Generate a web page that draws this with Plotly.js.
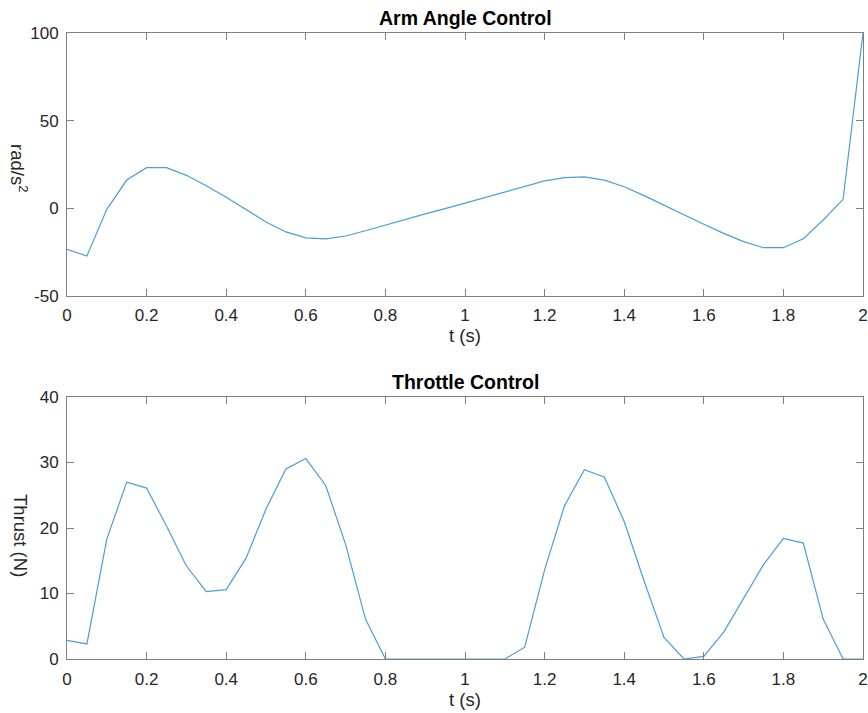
<!DOCTYPE html>
<html>
<head>
<meta charset="utf-8">
<script src="https://cdn.plot.ly/plotly-3.0.1.min.js"></script>
<style>html,body{margin:0;padding:0;background:#fff;}#chart{width:868px;height:713px;}</style>
</head>
<body>
<div id="chart"></div>
<script>
const t = [0,0.05,0.1,0.15,0.2,0.25,0.3,0.35,0.4,0.45,0.5,0.55,0.6,0.65,0.7,0.75,0.8,0.85,0.9,0.95,1.0,
           1.05,1.1,1.15,1.2,1.25,1.3,1.35,1.4,1.45,1.5,1.55,1.6,1.65,1.7,1.75,1.8,1.85,1.9,1.95,2.0];
const armAngle = [-23.4,-27.2,-0.6,16.1,23.2,23.2,18.8,12.9,6.3,-0.6,-7.8,-13.5,-16.9,-17.5,-15.8,-12.8,-9.5,-6.3,-3.2,-0.2,3.0,
                  6.1,9.2,12.4,15.6,17.5,17.9,16.1,12.3,7.2,1.7,-3.8,-9.1,-14.3,-19.0,-22.5,-22.5,-17.4,-6.7,5.1,100];
const thrust = [2.85,2.3,18.3,27.0,26.1,20.3,14.2,10.3,10.6,15.4,22.9,29.0,30.6,26.5,17.5,6.1,0,0,0,0,0,
                0,0,1.8,13.6,23.4,28.9,27.8,21.0,11.9,3.3,0,0.4,4.1,9.2,14.4,18.4,17.7,6.1,0,0];
const titles = ['Arm Angle Control','Throttle Control'];
const yTitles = ['rad/s<sup>2</sup>','Thrust (N)'];
const xTitle = 't (s)';
const xTicks = [0,0.2,0.4,0.6,0.8,1,1.2,1.4,1.6,1.8,2];
const xTickText = ['0','0.2','0.4','0.6','0.8','1','1.2','1.4','1.6','1.8','2'];
const yTicksTop = [-50,0,50,100];
const yTickTextTop = ['-50','0','50','100'];
const yTicksBottom = [0,10,20,30,40];
const yTickTextBottom = ['0','10','20','30','40'];

const lineColor = '#4a9fd8';
const fam = '"Liberation Sans", Arial, Helvetica, sans-serif';
const txt = '#262626';

const axisBase = {
  showgrid:false, zeroline:false, showline:true, linecolor:'#808080', linewidth:1,
  mirror:'ticks', ticks:'inside', ticklen:7, tickcolor:'#808080', tickwidth:1,
  tickfont:{family:fam, size:17, color:txt}
};

const traces = [
  {x:t, y:armAngle, type:'scatter', mode:'lines', line:{color:lineColor, width:1.2}, xaxis:'x', yaxis:'y', showlegend:false, hoverinfo:'skip'},
  {x:t, y:thrust, type:'scatter', mode:'lines', line:{color:lineColor, width:1.2}, xaxis:'x2', yaxis:'y2', showlegend:false, hoverinfo:'skip'}
];

const layout = {
  width:868, height:713,
  margin:{l:67, r:5, t:33, b:54},
  paper_bgcolor:'#fff', plot_bgcolor:'#fff',
  font:{family:fam, size:17, color:txt},
  showlegend:false,
  xaxis:Object.assign({}, axisBase, {domain:[0,1], anchor:'y', range:[0,2], tickvals:xTicks, ticktext:xTickText,
        ticklabelstandoff:4,
        title:{text:xTitle, font:{family:fam,size:18.5,color:txt}, standoff:4}}),
  yaxis:Object.assign({}, axisBase, {domain:[0.58,1], anchor:'x', range:[-50,100], tickvals:yTicksTop, ticktext:yTickTextTop,
        ticklabelstandoff:4}),
  xaxis2:Object.assign({}, axisBase, {domain:[0,1], anchor:'y2', range:[0,2], tickvals:xTicks, ticktext:xTickText,
        ticklabelstandoff:5,
        title:{text:xTitle, font:{family:fam,size:18.5,color:txt}, standoff:4}}),
  yaxis2:Object.assign({}, axisBase, {domain:[0,0.4185], anchor:'x2', range:[0,40], tickvals:yTicksBottom, ticktext:yTickTextBottom,
        ticklabelstandoff:4}),
  annotations:[
    {text:'<b>'+titles[0]+'</b>', xref:'paper', yref:'paper', x:0.5, xanchor:'center', y:1, yanchor:'bottom', yshift:2, showarrow:false,
     font:{family:fam, size:19.5, color:'#000'}},
    {text:'<b>'+titles[1]+'</b>', xref:'paper', yref:'paper', x:0.5, xanchor:'center', y:0.4185, yanchor:'bottom', yshift:2, showarrow:false,
     font:{family:fam, size:19.5, color:'#000'}},
    {text:yTitles[0], xref:'paper', yref:'paper', x:0, xanchor:'center', xshift:-48, y:0.7843, yanchor:'middle', textangle:90, showarrow:false,
     font:{family:fam, size:18.5, color:txt}},
    {text:yTitles[1], xref:'paper', yref:'paper', x:0, xanchor:'center', xshift:-46, y:0.198, yanchor:'middle', textangle:90, showarrow:false,
     font:{family:fam, size:18.5, color:txt}}
  ]
};

Plotly.newPlot('chart', traces, layout, {staticPlot:true, displayModeBar:false});
</script>
</body>
</html>
